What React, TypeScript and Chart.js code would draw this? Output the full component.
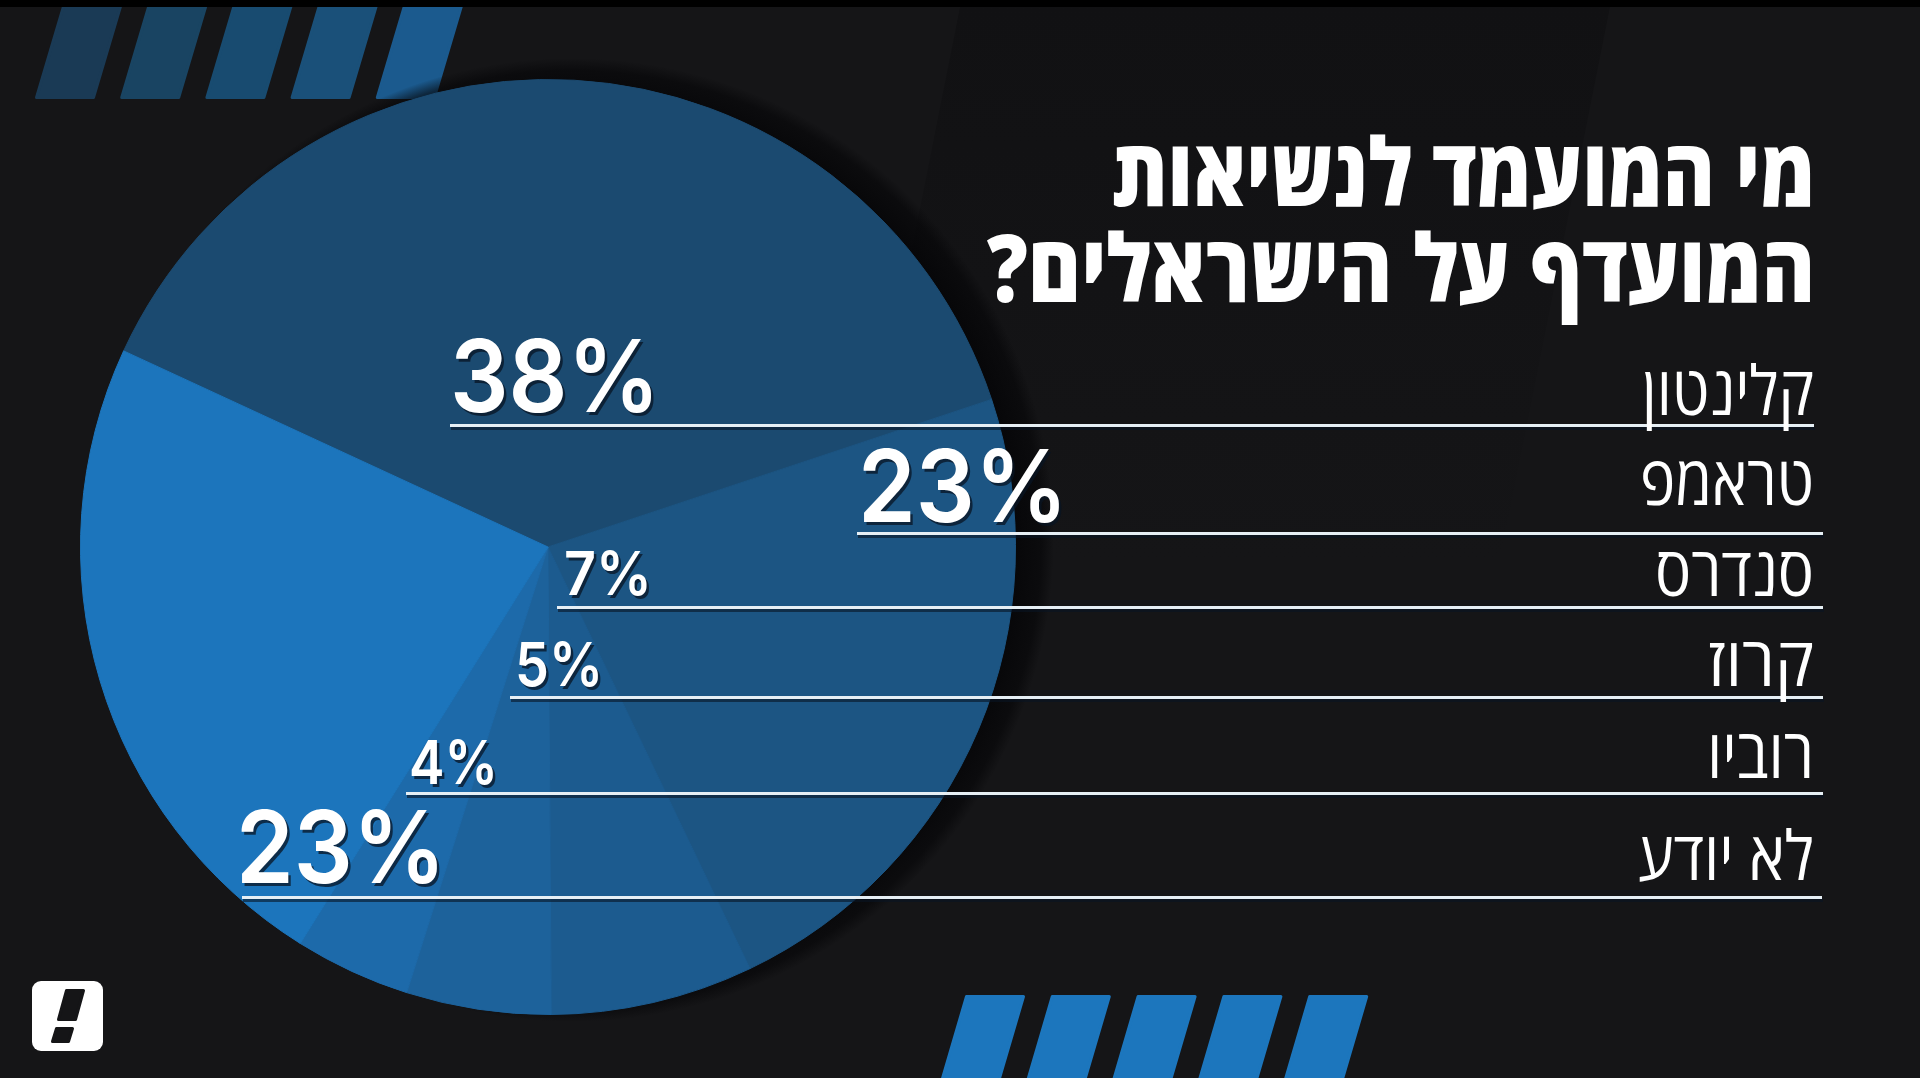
import React, { useEffect, useRef } from "react";
import { Chart, registerables } from "chart.js";

Chart.register(...registerables);

const candidates = ["קלינטון", "טראמפ", "סנדרס", "קרוז", "רוביו", "לא יודע"];
const shares = [38, 23, 7, 5, 4, 23];
const sliceColors = ["#1b4a70", "#1c5583", "#1c5b8f", "#1d629b", "#1d6aaa", "#1c75bc"];
const titleLines = ["מי המועמד לנשיאות", "המועדף על הישראלים?"];
const startAngle = 294.8;

// Annotation layout: one row per candidate (not data).
const rows = [
  { lineX: 450, lineEnd: 1814, lineY: 426, pctRight: 660, pctBase: 412, pctW: 210, pctSize: 100, nameW: 172, nameBase: 415 },
  { lineX: 857, lineEnd: 1823, lineY: 534, pctRight: 1068, pctBase: 522, pctW: 210, pctSize: 100, nameW: 174, nameBase: 505 },
  { lineX: 557, lineEnd: 1823, lineY: 608, pctRight: 652, pctBase: 595, pctW: 88, pctSize: 60, nameW: 159, nameBase: 596 },
  { lineX: 510, lineEnd: 1823, lineY: 698, pctRight: 603, pctBase: 686, pctW: 88, pctSize: 60, nameW: 106, nameBase: 686 },
  { lineX: 406, lineEnd: 1823, lineY: 794, pctRight: 498, pctBase: 784, pctW: 89, pctSize: 60, nameW: 107, nameBase: 778 },
  { lineX: 242, lineEnd: 1822, lineY: 898, pctRight: 446, pctBase: 883, pctW: 210, pctSize: 100, nameW: 176, nameBase: 880 },
];
const topStripeColors = ["#1a3a55", "#194462", "#184b70", "#1a5079", "#1b5a8e"];

function para(ctx: CanvasRenderingContext2D, x: number, y0: number, y1: number, w: number, lean: number, color: string) {
  const r = 1.5;
  ctx.fillStyle = color;
  ctx.strokeStyle = color;
  ctx.lineWidth = r * 2;
  ctx.lineJoin = "round";
  ctx.beginPath();
  ctx.moveTo(x + r, y0 + r);
  ctx.lineTo(x + w - r, y0 + r);
  ctx.lineTo(x + w - lean - r, y1 - r);
  ctx.lineTo(x - lean + r, y1 - r);
  ctx.closePath();
  ctx.fill();
  ctx.stroke();
}

function fitText(
  ctx: CanvasRenderingContext2D,
  text: string,
  right: number,
  base: number,
  width: number,
  font: string,
  dir: CanvasDirection,
  shadow: boolean,
) {
  ctx.save();
  ctx.font = font;
  ctx.direction = dir;
  ctx.textAlign = "right";
  ctx.textBaseline = "alphabetic";
  const s = width / ctx.measureText(text).width;
  ctx.translate(right, base);
  ctx.scale(s, 1);
  if (shadow) {
    ctx.fillStyle = "rgba(8,20,35,0.75)";
    ctx.fillText(text, 2.5 / s, 2.5);
  }
  ctx.fillStyle = "#ffffff";
  ctx.fillText(text, 0, 0);
  ctx.restore();
}

const backdrop = {
  id: "backdrop",
  beforeDraw(chart: Chart) {
    const ctx = chart.ctx;
    ctx.save();
    ctx.fillStyle = "#151517";
    ctx.fillRect(0, 0, 1920, 1078);
    const band = ctx.createLinearGradient(0, 7, 0, 560);
    band.addColorStop(0, "#111113");
    band.addColorStop(1, "#151517");
    ctx.fillStyle = band;
    ctx.beginPath();
    ctx.moveTo(960, 7);
    ctx.lineTo(1610, 7);
    ctx.lineTo(1500, 560);
    ctx.lineTo(850, 560);
    ctx.closePath();
    ctx.fill();
    topStripeColors.forEach((c, i) => {
      para(ctx, 62 + i * 85.2, 5, 99, 60, 27, c);
    });
    ctx.fillStyle = "#000000";
    ctx.fillRect(0, 0, 1920, 7);
    for (let i = 0; i < 5; i++) para(ctx, 965 + i * 85.8, 995, 1090, 60, 27, "#1c76bd");
    const g = ctx.createRadialGradient(572, 540, 440, 572, 540, 482);
    g.addColorStop(0, "rgba(5,5,7,0.9)");
    g.addColorStop(0.7, "rgba(5,5,7,0.6)");
    g.addColorStop(1, "rgba(5,5,7,0)");
    ctx.fillStyle = g;
    ctx.beginPath();
    ctx.arc(572, 540, 482, 0, Math.PI * 2);
    ctx.fill();
    ctx.restore();
  },
};

const overlay = {
  id: "overlay",
  afterDraw(chart: Chart) {
    const ctx = chart.ctx;
    ctx.save();
    titleLines.forEach((t, i) =>
      fitText(ctx, t, 1815, i === 0 ? 206 : 302, i === 0 ? 703 : 828, '800 94px "Open Sans"', "rtl", false),
    );
    rows.forEach((r, i) => {
      ctx.fillStyle = "rgba(8,20,35,0.6)";
      ctx.fillRect(r.lineX + 1, r.lineY + 1, r.lineEnd - r.lineX, 3);
      ctx.fillStyle = "#e6eff5";
      ctx.fillRect(r.lineX, r.lineY - 2, r.lineEnd - r.lineX, 3);
      fitText(ctx, candidates[i], 1814, r.nameBase, r.nameW, '400 68px "Open Sans"', "rtl", false);
      fitText(ctx, `${shares[i]}%`, r.pctRight, r.pctBase, r.pctW, `600 ${r.pctSize}px Inter`, "ltr", true);
    });
    ctx.fillStyle = "#ffffff";
    ctx.beginPath();
    ctx.roundRect(32, 981, 71, 70, 9);
    ctx.fill();
    para(ctx, 65, 989, 1021, 20, 8, "#151517");
    para(ctx, 55, 1027, 1043, 19, 4, "#151517");
    ctx.restore();
  },
};

export default function App() {
  const ref = useRef<HTMLCanvasElement>(null);
  useEffect(() => {
    document.body.style.margin = "0";
    document.body.style.background = "#151517";
    const chart = new Chart(ref.current!, {
      type: "pie",
      data: {
        labels: candidates,
        datasets: [{ data: shares, backgroundColor: sliceColors, borderColor: sliceColors, borderWidth: 1 }],
      },
      options: {
        responsive: false,
        animation: false,
        rotation: startAngle,
        layout: { padding: { left: 80, right: 904, top: 79, bottom: 63 } },
        plugins: { legend: { display: false }, tooltip: { enabled: false }, title: { display: false } },
      },
      plugins: [backdrop, overlay],
    });
    return () => chart.destroy();
  }, []);
  return <canvas ref={ref} width={1920} height={1078} style={{ display: "block" }} />;
}
